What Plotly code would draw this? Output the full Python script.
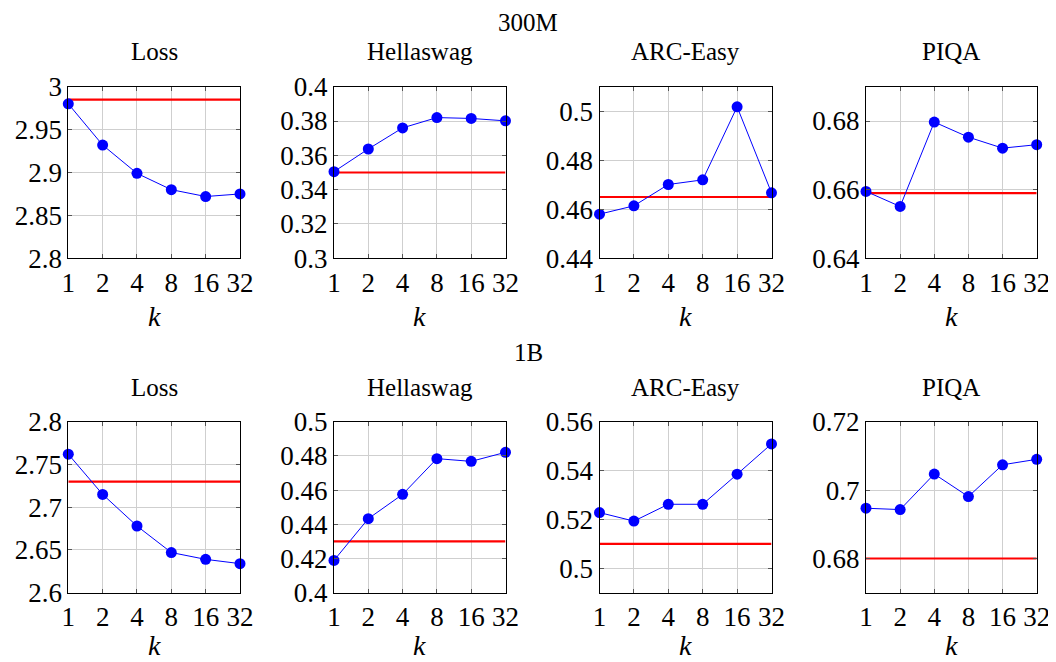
import plotly.graph_objects as go

k_values = [1, 2, 4, 8, 16, 32]
k_ticktext = ["1", "2", "4", "8", "16", "32"]

group_titles = ["300M", "1B"]
panel_titles = ["Loss", "Hellaswag", "ARC-Easy", "PIQA"]

# 300M
loss_300m = [2.980, 2.932, 2.899, 2.880, 2.872, 2.875]
hella_300m = [0.3505, 0.3637, 0.3760, 0.3820, 0.3815, 0.3801]
arc_300m = [0.4580, 0.4614, 0.4701, 0.4720, 0.5018, 0.4667]
piqa_300m = [0.6595, 0.6551, 0.6797, 0.6753, 0.6721, 0.6731]
base_300m = [2.985, 0.350, 0.465, 0.659]

# 1B
loss_1b = [2.762, 2.715, 2.678, 2.647, 2.639, 2.634]
hella_1b = [0.4189, 0.4433, 0.4575, 0.4784, 0.4768, 0.4821]
arc_1b = [0.5228, 0.5193, 0.5262, 0.5262, 0.5385, 0.5509]
piqa_1b = [0.6947, 0.6943, 0.7047, 0.6981, 0.7074, 0.7090]
base_1b = [2.73, 0.43, 0.51, 0.68]

series = [[loss_300m, hella_300m, arc_300m, piqa_300m],
          [loss_1b, hella_1b, arc_1b, piqa_1b]]
baselines = [base_300m, base_1b]

y_ranges = [[[2.8, 3.0], [0.3, 0.4], [0.44, 0.51], [0.64, 0.69]],
            [[2.6, 2.8], [0.4, 0.5], [0.49, 0.56], [0.67, 0.72]]]
y_ticks = [[[2.8, 2.85, 2.9, 2.95, 3.0], [0.3, 0.32, 0.34, 0.36, 0.38, 0.4],
            [0.44, 0.46, 0.48, 0.5], [0.64, 0.66, 0.68]],
           [[2.6, 2.65, 2.7, 2.75, 2.8], [0.4, 0.42, 0.44, 0.46, 0.48, 0.5],
            [0.5, 0.52, 0.54, 0.56], [0.68, 0.7, 0.72]]]
y_ticktext = [[["2.8", "2.85", "2.9", "2.95", "3"], ["0.3", "0.32", "0.34", "0.36", "0.38", "0.4"],
               ["0.44", "0.46", "0.48", "0.5"], ["0.64", "0.66", "0.68"]],
              [["2.6", "2.65", "2.7", "2.75", "2.8"], ["0.4", "0.42", "0.44", "0.46", "0.48", "0.5"],
               ["0.5", "0.52", "0.54", "0.56"], ["0.68", "0.7", "0.72"]]]

# page offset of the figure div (default body margin)
OX, OY = 8, 8
W, H = 1048, 654
FONT = "Liberation Serif"
col_px = [(68.3, 240.0), (334.0, 505.5), (599.5, 771.5), (866.0, 1036.7)]
row_px = [(86.7, 258.3), (421.7, 592.7)]
panel_title_y = [52, 387]


def fx(px):
    return (px - OX) / W


def fy(py):
    return 1 - (py - OY) / H


fig = go.Figure()
annotations = []
layout = {}
idx = 0
for r in range(2):
    for c in range(4):
        idx += 1
        xa = "x" if idx == 1 else f"x{idx}"
        ya = "y" if idx == 1 else f"y{idx}"
        xkey = "xaxis" if idx == 1 else f"xaxis{idx}"
        ykey = "yaxis" if idx == 1 else f"yaxis{idx}"
        fig.add_trace(go.Scatter(
            x=[k_values[0], k_values[-1]], y=[baselines[r][c]] * 2,
            mode="lines", line=dict(color="#ff0000", width=2.2),
            xaxis=xa, yaxis=ya, showlegend=False, cliponaxis=False))
        fig.add_trace(go.Scatter(
            x=k_values, y=series[r][c], mode="lines+markers",
            line=dict(color="#0000ff", width=1),
            marker=dict(color="#0000ff", size=11),
            xaxis=xa, yaxis=ya, showlegend=False, cliponaxis=False))
        x0, x1 = col_px[c]
        yt, yb = row_px[r]
        common = dict(showgrid=True, gridcolor="#cfcfcf", gridwidth=1,
                      showline=True, linecolor="black", linewidth=1, mirror="ticks",
                      ticks="inside", ticklen=4, tickcolor="#555555",
                      tickfont=dict(family=FONT, size=27, color="black"),
                      zeroline=False, fixedrange=True, automargin=False)
        layout[xkey] = dict(type="log", range=[0, 1.50515], domain=[fx(x0), fx(x1)],
                            anchor=ya, tickvals=k_values, ticktext=k_ticktext, **common)
        layout[ykey] = dict(range=y_ranges[r][c], domain=[fy(yb), fy(yt)],
                            anchor=xa, tickvals=y_ticks[r][c], ticktext=y_ticktext[r][c], **common)
        xc = fx((x0 + x1) / 2)
        annotations.append(dict(text=panel_titles[c], x=xc, y=fy(panel_title_y[r]),
                                xref="paper", yref="paper", showarrow=False,
                                xanchor="center", yanchor="middle",
                                font=dict(family=FONT, size=25, color="black")))
        if r == 0:
            annotations.append(dict(text="<i>k</i>", x=xc, y=fy(317),
                                    xref="paper", yref="paper", showarrow=False,
                                    xanchor="center", yanchor="middle",
                                    font=dict(family=FONT, size=28, color="black")))
        else:
            annotations.append(dict(text="<i>k</i>", x=xc, y=0,
                                    xref="paper", yref="paper", showarrow=False,
                                    xanchor="center", yanchor="bottom", borderpad=0,
                                    font=dict(family=FONT, size=28, color="black")))

annotations.append(dict(text=group_titles[0], x=fx(528), y=1.0,
                        xref="paper", yref="paper", showarrow=False,
                        xanchor="center", yanchor="top", borderpad=0,
                        font=dict(family=FONT, size=25, color="black")))
annotations.append(dict(text=group_titles[1], x=fx(528), y=fy(352),
                        xref="paper", yref="paper", showarrow=False,
                        xanchor="center", yanchor="middle",
                        font=dict(family=FONT, size=25, color="black")))

fig.update_layout(width=W, height=H, margin=dict(l=0, r=0, t=0, b=0, autoexpand=False),
                  paper_bgcolor="white", plot_bgcolor="white",
                  annotations=annotations, **layout)
fig.write_html("out.html")
